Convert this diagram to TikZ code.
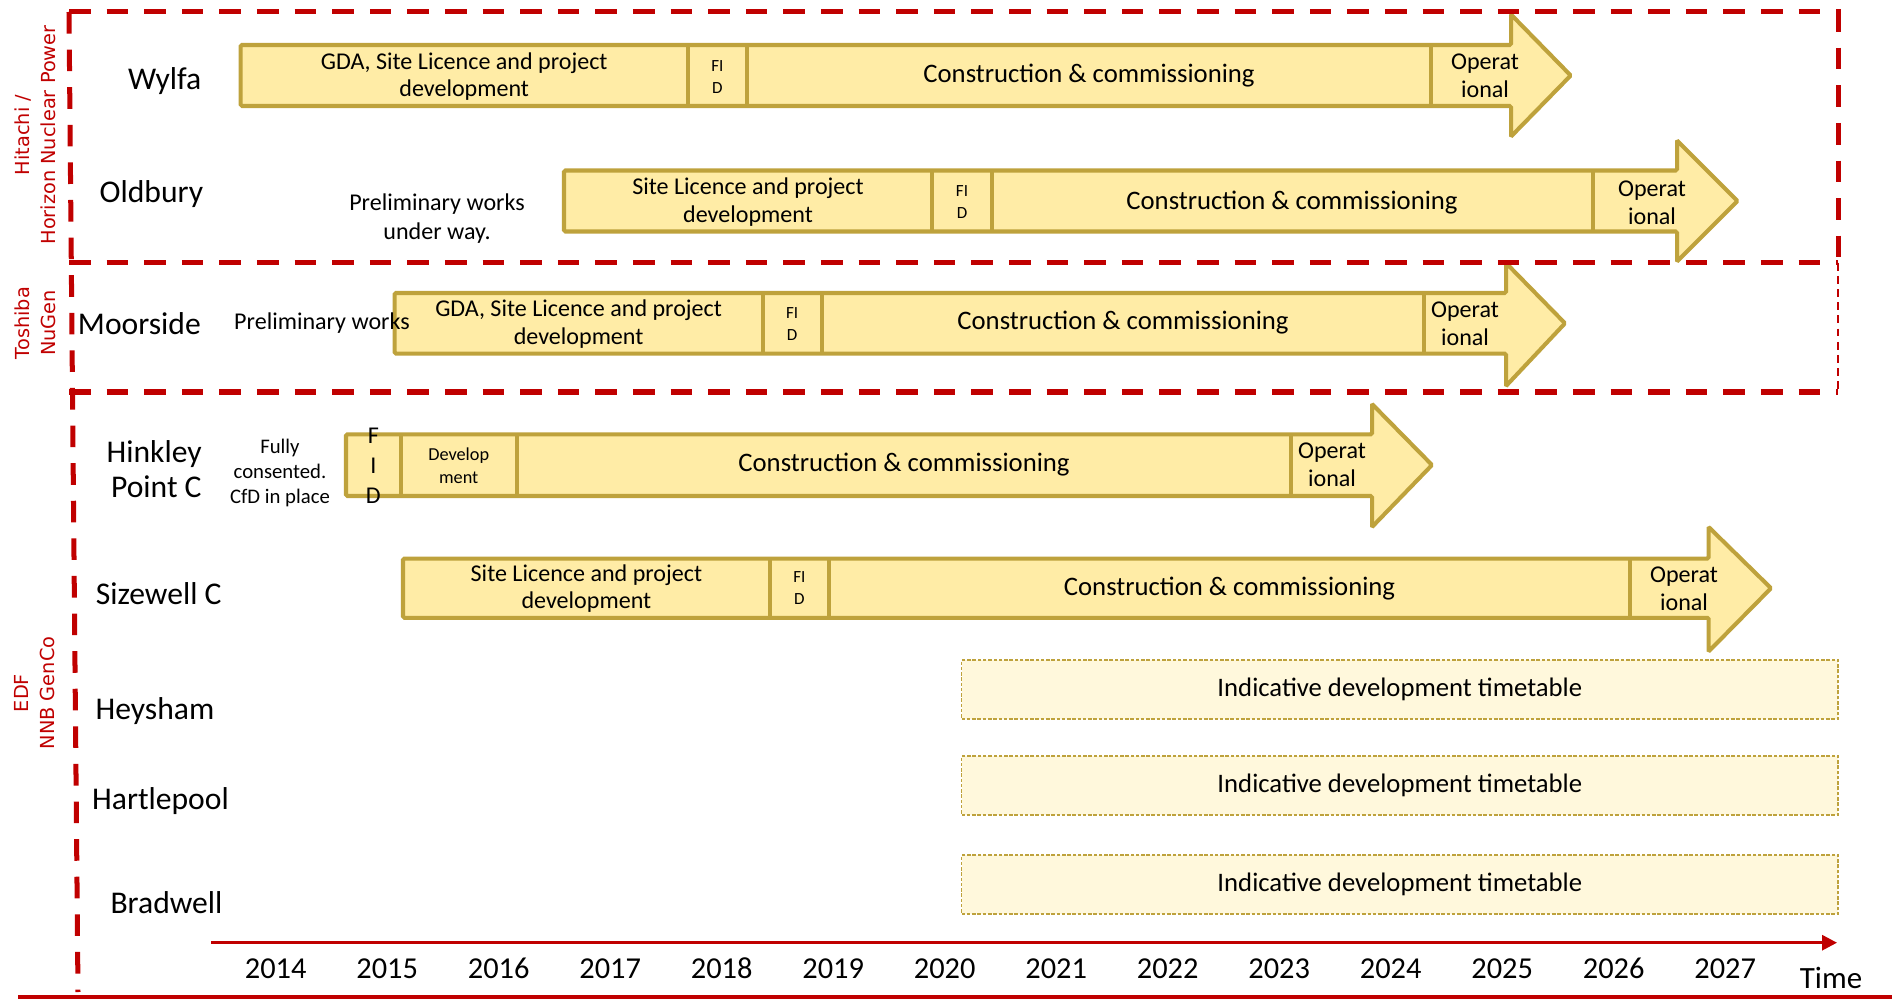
\documentclass[tikz,border=0pt]{standalone}
\usepackage{fontspec}
\setmainfont{Carlito}
\newfontfamily\grpfont{DejaVu Sans}
\usetikzlibrary{arrows.meta}
\definecolor{redc}{RGB}{192,0,0}
\definecolor{barfill}{RGB}{255,236,166}
\definecolor{barline}{RGB}{190,162,60}
\definecolor{indfill}{RGB}{255,248,220}
\begin{document}
\begin{tikzpicture}[x=0.02cm,y=-0.02cm,
  bar/.style={fill=barfill,draw=barline,line width=2.3pt,line join=miter},
  divider/.style={draw=barline,line width=2.3pt},
  maintxt/.style={font=\fontsize{13.7}{15.7}\selectfont,align=center,inner sep=0pt},
  contxt/.style={font=\fontsize{15.2}{17}\selectfont,align=center,inner sep=0pt},
  fidtxt/.style={font=\fontsize{9.7}{12.5}\selectfont,align=center,inner sep=0pt},
  nametxt/.style={font=\fontsize{18}{19.9}\selectfont,inner sep=0pt},
  yeartxt/.style={font=\fontsize{17.3}{20}\selectfont,inner sep=0pt},
  grptxt/.style={font=\grpfont\fontsize{11}{14.8}\selectfont,text=redc,align=center,inner sep=0pt,rotate=90},
  thickdash/.style={draw=redc,line width=2.85pt,dash pattern=on 12.3pt off 9.1pt},
  thindash/.style={draw=redc,line width=0.8pt,dash pattern=on 4.5pt off 3pt},
  indbox/.style={draw=barline,fill=indfill,line width=0.6pt,dash pattern=on 2pt off 1pt,
    minimum width=17.53cm,minimum height=1.18cm,font=\fontsize{15.2}{17}\selectfont,inner sep=0pt}
]
\path[use as bounding box] (0,0) rectangle (1892,999);

% ---------- bars ----------
% Wylfa
\path[bar,rounded corners=0.8pt] (240.7,45) -- (1511,45) -- (1511,14.5) -- (1570.7,75.5) -- (1511,136.5) -- (1511,106) -- (240.7,106) -- cycle;
\draw[divider] (687.7,45) -- (687.7,106);
\draw[divider] (747,45) -- (747,106);
\draw[divider] (1430.7,45) -- (1430.7,106);
% Oldbury
\path[bar,rounded corners=0.8pt] (564,170.5) -- (1677,170.5) -- (1677,140.5) -- (1737.5,201) -- (1677,261.5) -- (1677,231.5) -- (564,231.5) -- cycle;
\draw[divider] (932.3,170.5) -- (932.3,231.5);
\draw[divider] (991.7,170.5) -- (991.7,231.5);
\draw[divider] (1592.7,170.5) -- (1592.7,231.5);
% Moorside
\path[bar,rounded corners=0.8pt] (394.6,293) -- (1506,293) -- (1506,263) -- (1565,323.3) -- (1506,386) -- (1506,353.6) -- (394.6,353.6) -- cycle;
\draw[divider] (762.6,293) -- (762.6,353.6);
\draw[divider] (821.7,293) -- (821.7,353.6);
\draw[divider] (1424,293) -- (1424,353.6);
% Hinkley
\path[bar,rounded corners=0.8pt] (346,434.3) -- (1372,434.3) -- (1372,404) -- (1432,465) -- (1372,527) -- (1372,496) -- (346,496) -- cycle;
\draw[divider] (400.7,434.3) -- (400.7,496);
\draw[divider] (516.7,434.3) -- (516.7,496);
\draw[divider] (1291,434.3) -- (1291,496);
% Sizewell
\path[bar,rounded corners=0.8pt] (403,558.6) -- (1708.6,558.6) -- (1708.6,527) -- (1771,588.2) -- (1708.6,651.5) -- (1708.6,617.8) -- (403,617.8) -- cycle;
\draw[divider] (769.8,558.6) -- (769.8,617.8);
\draw[divider] (829,558.6) -- (829,617.8);
\draw[divider] (1630,558.6) -- (1630,617.8);

% ---------- bar texts ----------
\node[maintxt] (wgda) at (464.2,76.4) {GDA, Site Licence and project\\development};
\node[fidtxt] (wfid) at (717.4,77) {FI\\D};
\node[contxt] (wcon) at (1089,76) {Construction \& commissioning};
\node[maintxt] (wop) at (1485,76) {Operat\\ional};

\node[maintxt] (osl) at (748,202) {Site Licence and project\\development};
\node[fidtxt] (ofid) at (962,202) {FI\\D};
\node[contxt] (ocon) at (1292,203) {Construction \& commissioning};
\node[maintxt] (oop) at (1652,203) {Operat\\ional};
\node[maintxt,font=\fontsize{13.7}{16.5}\selectfont] (oprel) at (437,218.5) {Preliminary works\\under way.};

\node[maintxt] (mgda) at (578.6,324) {GDA, Site Licence and project\\development};
\node[fidtxt] (mfid) at (792.2,324) {FI\\D};
\node[contxt] (mcon) at (1123,323) {Construction \& commissioning};
\node[maintxt] (mop) at (1465,324) {Operat\\ional};
\node[maintxt] (mprel) at (322,323) {Preliminary works};

\node[maintxt,font=\fontsize{13.7}{17}\selectfont] (hfid) at (373.3,466) {F\\I\\D};
\node[maintxt,font=\fontsize{10.4}{13}\selectfont] (hdev) at (458.7,465.5) {Develop\\ment};
\node[contxt] (hcon) at (904,464.5) {Construction \& commissioning};
\node[maintxt] (hop) at (1332,464.5) {Operat\\ional};
\node[maintxt,font=\fontsize{11.8}{14.2}\selectfont] (hfully) at (280,473) {Fully\\consented.\\CfD in place};

\node[maintxt] (ssl) at (586.4,588.5) {Site Licence and project\\development};
\node[fidtxt] (sfid) at (799.4,588.5) {FI\\D};
\node[contxt] (scon) at (1229.5,589) {Construction \& commissioning};
\node[maintxt] (sop) at (1684,588.5) {Operat\\ional};

% ---------- indicative boxes ----------
\node[indbox] (ind1) at (1399.8,689.5) {Indicative development timetable};
\node[indbox] (ind2) at (1399.8,785.5) {Indicative development timetable};
\node[indbox] (ind3) at (1399.8,884.5) {Indicative development timetable};

% ---------- row names ----------
\node[nametxt] (nwylfa) at (164.7,81) {Wylfa};
\node[nametxt] (noldbury) at (151.4,194.3) {Oldbury};
\node[nametxt] (nmoorside) at (139.4,323.4) {Moorside};
\node[nametxt,align=right,anchor=east] (nhinkley) at (202,469.5) {Hinkley\\Point C};
\node[nametxt] (nsizewell) at (158.7,593.6) {Sizewell C};
\node[nametxt] (nheysham) at (155,710.7) {Heysham};
\node[nametxt] (nhartlepool) at (160.5,801) {Hartlepool};
\node[nametxt] (nbradwell) at (166.5,902.5) {Bradwell};

% ---------- group labels ----------
\node[grptxt] (ghitachi) at (35,135) {Hitachi /\\Horizon Nuclear Power};
\node[grptxt] (gtoshiba) at (35,323) {Toshiba\\NuGen};
\node[grptxt] (gedf) at (35,693) {EDF\\NNB GenCo};

% ---------- frames ----------
\coordinate (ftl) at (69,12);
\coordinate (ftr) at (1838,12);
\coordinate (fml) at (69,262.7);
\coordinate (fmr) at (1838,262.7);
\coordinate (fbl) at (69,392);
\coordinate (fbr) at (1838,392);
\coordinate (fleftbot) at (78,992);
\draw[thickdash] (ftl) -- (ftr) -- (fmr);
\draw[thickdash] (fml) -- (fmr);
\draw[thindash] (fmr) -- (fbr);
\draw[thickdash] (fbl) -- (fbr);
\draw[thickdash] (ftl) -- (fleftbot);

% ---------- axis ----------
\coordinate (ax0) at (211,942.7);
\coordinate (ax1) at (1837,942.7);
\draw[redc,line width=1.7pt,-{Triangle[length=8.5pt,width=8.5pt]}] (ax0) -- (ax1);
\foreach \yr [count=\i from 0] in {2014,...,2027}
  \node[yeartxt] (yr\yr) at ({275.7+111.5*\i},968.3) {\yr};
\node[yeartxt,font=\fontsize{17.6}{20}\selectfont] (timelbl) at (1831,978) {Time};

\coordinate (bl0) at (18,997);
\coordinate (bl1) at (1892,997);
\draw[redc,line width=2.4pt] (bl0) -- (bl1);
\end{tikzpicture}
\end{document}
